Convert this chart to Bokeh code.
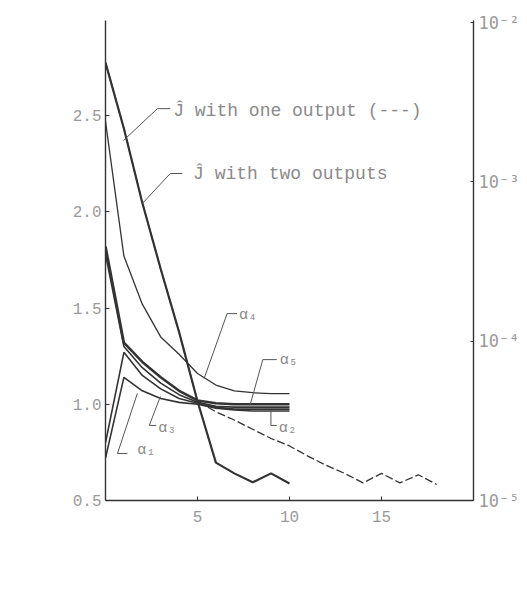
import math
from bokeh.plotting import figure
from bokeh.models import Range1d, LogAxis, LogScale, FixedTicker, Label
from bokeh.embed import file_html
from bokeh.resources import INLINE

# ---------------- data ----------------
iters_alpha = [0, 1, 2, 3, 4, 5, 6, 7, 8, 9, 10]
alpha1 = [0.72, 1.14, 1.07, 1.03, 1.01, 1.00, 0.98, 0.97, 0.965, 0.965, 0.965]
alpha2 = [1.78, 1.30, 1.19, 1.11, 1.05, 1.01, 0.99, 0.985, 0.985, 0.985, 0.985]
alpha3 = [0.80, 1.27, 1.15, 1.08, 1.03, 1.005, 0.985, 0.975, 0.975, 0.975, 0.975]
alpha4 = [2.47, 1.77, 1.52, 1.35, 1.26, 1.16, 1.10, 1.07, 1.06, 1.055, 1.055]
alpha5 = [1.82, 1.32, 1.22, 1.14, 1.07, 1.02, 1.005, 1.0, 1.0, 1.0, 1.0]

iters_j_two = [0, 1, 2, 3, 4, 5, 6, 7, 8, 9, 10]
j_two = [5.6e-3, 2.16e-3, 7.4e-4, 2.84e-4, 1.14e-4, 4.2e-5, 1.73e-5, 1.48e-5, 1.30e-5, 1.48e-5, 1.28e-5]

iters_j_one = [0, 1, 2, 3, 4, 5, 6, 7, 8, 9, 10, 11, 12, 13, 14, 15, 16, 17, 18]
j_one = [5.6e-3, 2.16e-3, 7.4e-4, 2.84e-4, 1.14e-4, 4.2e-5, 3.6e-5, 3.2e-5, 2.8e-5,
         2.45e-5, 2.2e-5, 1.9e-5, 1.66e-5, 1.48e-5, 1.29e-5, 1.48e-5, 1.29e-5, 1.45e-5, 1.26e-5]

x_ticks = [5, 10, 15]
left_ticks = [0.5, 1.0, 1.5, 2.0, 2.5]
left_tick_labels = ["0.5", "1.0", "1.5", "2.0", "2.5"]
right_ticks = [1e-5, 1e-4, 1e-3, 1e-2]
right_tick_labels = ["10\u207b\u2075", "10\u207b\u2074", "10\u207b\u00b3", "10\u207b\u00b2"]

# ---------------- figure ----------------
FONT = "Liberation Mono"
LINE = "#333333"
TEXT = "#8a8a8a"
TICKTXT = "#9a9a9a"

X0, X1 = 0, 20
Y0, Y1 = 0.5, 2.994
J0, J1 = 1e-5, 1.03e-2

p = figure(width=522, height=593,
           x_range=Range1d(X0, X1), y_range=Range1d(Y0, Y1),
           output_backend="svg", toolbar_location=None,
           min_border_left=105, min_border_top=20,
           min_border_bottom=93, min_border_right=49)
p.extra_y_ranges = {"J": Range1d(J0, J1)}
p.extra_y_scales = {"J": LogScale()}

p.outline_line_color = None
p.grid.visible = False
p.background_fill_color = "white"
p.border_fill_color = "white"

for ax in (p.xaxis[0], p.yaxis[0]):
    ax.axis_line_color = LINE
    ax.axis_line_width = 1.4
    ax.major_tick_line_color = LINE
    ax.major_tick_in = 4
    ax.major_tick_out = 0
    ax.minor_tick_line_color = None
    ax.major_label_text_font = FONT
    ax.major_label_text_color = TICKTXT
    ax.major_label_text_font_size = "16px"

p.xaxis.ticker = FixedTicker(ticks=x_ticks)
p.xaxis.major_label_standoff = 10
p.yaxis.ticker = FixedTicker(ticks=left_ticks)
p.yaxis.major_label_overrides = dict(zip(left_ticks, left_tick_labels))
p.yaxis.major_label_standoff = 4

rax = LogAxis(y_range_name="J", ticker=FixedTicker(ticks=right_ticks),
              major_label_overrides=dict(zip(right_ticks, right_tick_labels)))
rax.axis_line_color = LINE
rax.axis_line_width = 1.4
rax.major_tick_line_color = LINE
rax.major_tick_in = 3
rax.major_tick_out = 0
rax.minor_tick_line_color = None
rax.major_label_text_font = "DejaVu Sans Mono"
rax.major_label_text_color = TICKTXT
rax.major_label_text_font_size = "17px"
rax.major_label_standoff = 5
p.add_layout(rax, "right")

# ---------------- curves ----------------
p.line(iters_j_one, j_one, y_range_name="J", line_color=LINE, line_width=1.3, line_dash="8 3")
p.line(iters_j_two, j_two, y_range_name="J", line_color=LINE, line_width=2.2)

p.line(iters_alpha, alpha4, line_color=LINE, line_width=1.3)
p.line(iters_alpha, alpha1, line_color=LINE, line_width=1.6)
p.line(iters_alpha, alpha3, line_color=LINE, line_width=1.6)
p.line(iters_alpha, alpha2, line_color=LINE, line_width=1.6)
p.line(iters_alpha, alpha5, line_color=LINE, line_width=2.6)

# ---------------- annotations ----------------
LEAD = "#555555"
p.line([3.52, 2.82, 0.97], [2.536, 2.536, 2.370], line_color=LEAD, line_width=1)
p.line([4.17, 3.52, 2.00], [2.199, 2.199, 2.043], line_color=LEAD, line_width=1)
p.line([7.15, 6.61, 5.36], [1.471, 1.471, 1.134], line_color=LEAD, line_width=1)
p.line([9.31, 8.55, 7.85], [1.232, 1.232, 0.994], line_color=LEAD, line_width=1)
p.line([8.99, 8.99, 9.31], [0.968, 0.890, 0.890], line_color=LEAD, line_width=1)
p.line([2.98, 2.38, 2.76], [1.040, 0.890, 0.890], line_color=LEAD, line_width=1)
p.line([1.73, 0.65, 1.19], [1.056, 0.744, 0.744], line_color=LEAD, line_width=1)

def lab(x, y, text, size="18px", align="left", angle=0.0, color=TEXT):
    p.add_layout(Label(x=x, y=y, text=text, text_font=FONT, text_font_size=size,
                       text_color=color, text_align=align, text_baseline="middle",
                       angle=angle))

lab(3.68, 2.526, "\u0134 with one output (---)")
lab(4.76, 2.199, "\u0134 with two outputs")
lab(7.26, 1.46, "\u03b1\u2084", size="15px")
lab(9.47, 1.23, "\u03b1\u2085", size="15px")
lab(9.42, 0.874, "\u03b1\u2082", size="15px")
lab(2.87, 0.874, "\u03b1\u2083", size="15px")
lab(1.73, 0.76, "\u03b1\u2081", size="15px")

lab(7.9, 0.152, "No. of Iterations", align="center", color=TICKTXT)
lab(-4.28, 1.28, "\u03b1 (p.u.)", align="center", angle=math.pi / 2, color=TICKTXT)

open("out.html", "w").write(file_html(p, INLINE))
